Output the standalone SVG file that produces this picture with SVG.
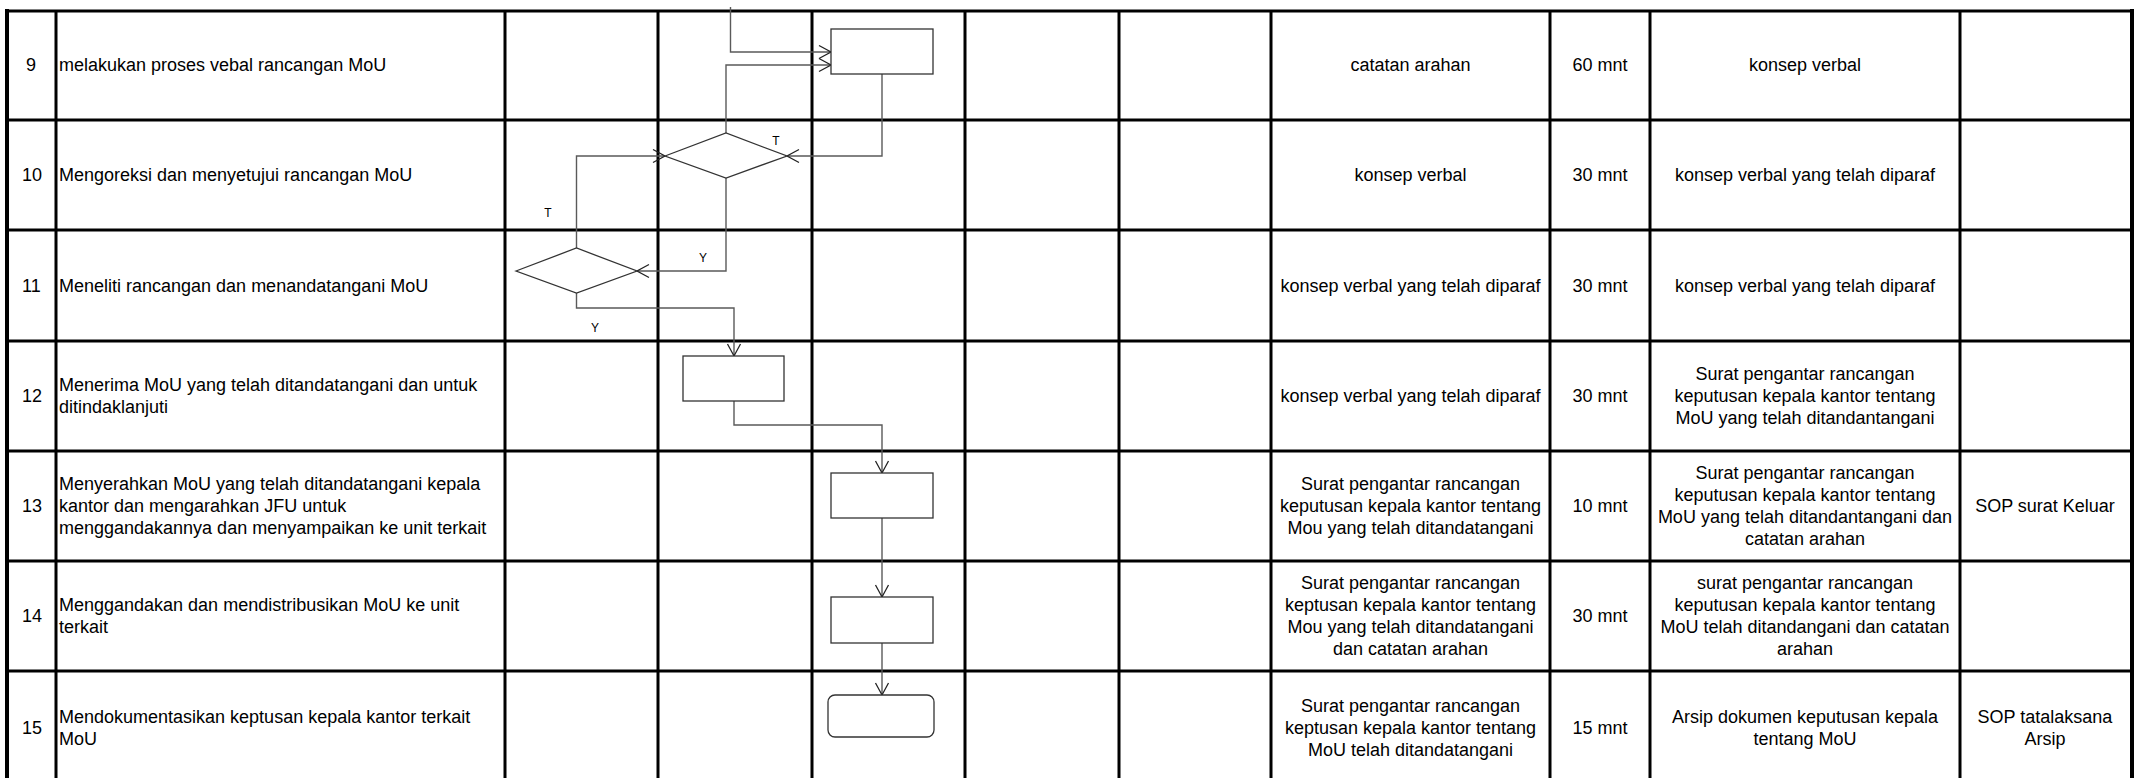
<svg xmlns="http://www.w3.org/2000/svg" width="2134" height="778" viewBox="0 0 2134 778">
<style>
.t{font-family:"Liberation Sans",Arial,sans-serif;font-size:18px;fill:#000}
.c{text-anchor:middle}
.s{font-family:"Liberation Sans",Arial,sans-serif;font-size:12px;fill:#000;text-anchor:middle}
.g{stroke:#000;stroke-width:3;fill:none}
.b{stroke:#000;stroke-width:4;fill:none}
.n{fill:#fff;stroke:#333;stroke-width:1.3}
.e{fill:none;stroke:#5a5a5a;stroke-width:1.4;marker-end:url(#ar)}
</style>
<defs>
<marker id="ar" markerUnits="userSpaceOnUse" markerWidth="16" markerHeight="16" viewBox="-14 -8 16 16" refX="0" refY="0" orient="auto">
<path d="M-12,-6.5 L0,0 L-12,6.5" fill="none" stroke="#222" stroke-width="1.3"/>
</marker>
</defs>
<rect width="2134" height="778" fill="#fff"/>
<g id="grid">
<path class="g" d="M5,11H2134M5,120H2134M5,230H2134M5,341H2134M5,451H2134M5,561H2134M5,671H2134"/>
<path class="g" d="M56,10V778M505,10V778M658,10V778M812,10V778M965,10V778M1119,10V778M1271,10V778M1550,10V778M1650,10V778M1960,10V778"/>
<path class="b" d="M7,9V778M2132,9V778"/>
</g>
<g id="connectors">
<path class="e" d="M730.5,7V52H831"/>
<path class="e" d="M726,133V65H831"/>
<path class="e" d="M882,74V156H787"/>
<path class="e" d="M726,178V271H637"/>
<path class="e" d="M576.5,248V156H665"/>
<path class="e" d="M576.5,293V308H734V356"/>
<path class="e" d="M734,401V425H882V473"/>
<path class="e" d="M882,518V597"/>
<path class="e" d="M882,643V695"/>
</g>
<g id="labels">
<text class="s" x="776" y="145">T</text>
<text class="s" x="548" y="217">T</text>
<text class="s" x="703" y="262">Y</text>
<text class="s" x="595" y="332">Y</text>
</g>
<g id="box9"><rect class="n" x="831" y="29" width="102" height="45"/></g>
<g id="decision10"><polygon class="n" points="665,156 726,133 787,156 726,178"/></g>
<g id="decision11"><polygon class="n" points="516,271 576.5,248 637,271 576.5,293"/></g>
<g id="box12"><rect class="n" x="683" y="356" width="101" height="45"/></g>
<g id="box13"><rect class="n" x="831" y="473" width="102" height="45"/></g>
<g id="box14"><rect class="n" x="831" y="597" width="102" height="46"/></g>
<g id="end15"><rect class="n" x="828" y="695" width="106" height="42" rx="7"/></g>
<g id="row9">
<text class="t" x="26" y="71">9</text>
<text class="t" x="59" y="71">melakukan proses vebal rancangan MoU</text>
<text class="t c" x="1410.5" y="71">catatan arahan</text>
<text class="t c" x="1600" y="71">60 mnt</text>
<text class="t c" x="1805" y="71">konsep verbal</text>
</g>
<g id="row10">
<text class="t" x="22" y="181">10</text>
<text class="t" x="59" y="181">Mengoreksi dan menyetujui rancangan MoU</text>
<text class="t c" x="1410.5" y="181">konsep verbal</text>
<text class="t c" x="1600" y="181">30 mnt</text>
<text class="t c" x="1805" y="181">konsep verbal yang telah diparaf</text>
</g>
<g id="row11">
<text class="t" x="22" y="292">11</text>
<text class="t" x="59" y="292">Meneliti rancangan dan menandatangani MoU</text>
<text class="t c" x="1410.5" y="292">konsep verbal yang telah diparaf</text>
<text class="t c" x="1600" y="292">30 mnt</text>
<text class="t c" x="1805" y="292">konsep verbal yang telah diparaf</text>
</g>
<g id="row12">
<text class="t" x="22" y="402">12</text>
<text class="t" x="59" y="391">Menerima MoU yang telah ditandatangani dan untuk</text>
<text class="t" x="59" y="413">ditindaklanjuti</text>
<text class="t c" x="1410.5" y="402">konsep verbal yang telah diparaf</text>
<text class="t c" x="1600" y="402">30 mnt</text>
<text class="t c" x="1805" y="380">Surat pengantar rancangan</text>
<text class="t c" x="1805" y="402">keputusan kepala kantor tentang</text>
<text class="t c" x="1805" y="424">MoU yang telah ditandantangani</text>
</g>
<g id="row13">
<text class="t" x="22" y="512">13</text>
<text class="t" x="59" y="490">Menyerahkan MoU yang telah ditandatangani kepala</text>
<text class="t" x="59" y="512">kantor dan mengarahkan JFU untuk</text>
<text class="t" x="59" y="534">menggandakannya dan menyampaikan ke unit terkait</text>
<text class="t c" x="1410.5" y="490">Surat pengantar rancangan</text>
<text class="t c" x="1410.5" y="512">keputusan kepala kantor tentang</text>
<text class="t c" x="1410.5" y="534">Mou yang telah ditandatangani</text>
<text class="t c" x="1600" y="512">10 mnt</text>
<text class="t c" x="1805" y="479">Surat pengantar rancangan</text>
<text class="t c" x="1805" y="501">keputusan kepala kantor tentang</text>
<text class="t c" x="1805" y="523">MoU yang telah ditandantangani dan</text>
<text class="t c" x="1805" y="545">catatan arahan</text>
<text class="t c" x="2045" y="512">SOP surat Keluar</text>
</g>
<g id="row14">
<text class="t" x="22" y="622">14</text>
<text class="t" x="59" y="611">Menggandakan dan mendistribusikan MoU ke unit</text>
<text class="t" x="59" y="633">terkait</text>
<text class="t c" x="1410.5" y="589">Surat pengantar rancangan</text>
<text class="t c" x="1410.5" y="611">keptusan kepala kantor tentang</text>
<text class="t c" x="1410.5" y="633">Mou yang telah ditandatangani</text>
<text class="t c" x="1410.5" y="655">dan catatan arahan</text>
<text class="t c" x="1600" y="622">30 mnt</text>
<text class="t c" x="1805" y="589">surat pengantar rancangan</text>
<text class="t c" x="1805" y="611">keputusan kepala kantor tentang</text>
<text class="t c" x="1805" y="633">MoU telah ditandangani dan catatan</text>
<text class="t c" x="1805" y="655">arahan</text>
</g>
<g id="row15">
<text class="t" x="22" y="734">15</text>
<text class="t" x="59" y="723">Mendokumentasikan keptusan kepala kantor terkait</text>
<text class="t" x="59" y="745">MoU</text>
<text class="t c" x="1410.5" y="712">Surat pengantar rancangan</text>
<text class="t c" x="1410.5" y="734">keptusan kepala kantor tentang</text>
<text class="t c" x="1410.5" y="756">MoU telah ditandatangani</text>
<text class="t c" x="1600" y="734">15 mnt</text>
<text class="t c" x="1805" y="723">Arsip dokumen keputusan kepala</text>
<text class="t c" x="1805" y="745">tentang MoU</text>
<text class="t c" x="2045" y="723">SOP tatalaksana</text>
<text class="t c" x="2045" y="745">Arsip</text>
</g>
</svg>
